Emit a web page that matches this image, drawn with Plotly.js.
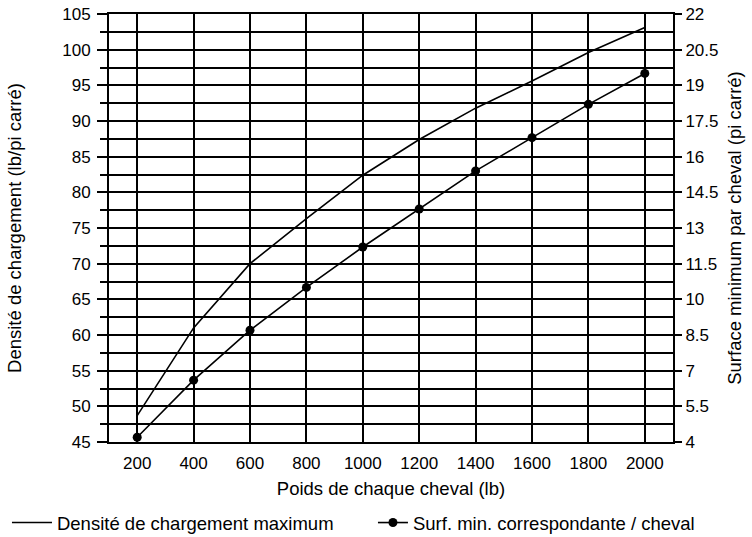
<!DOCTYPE html>
<html>
<head>
<meta charset="utf-8">
<script src="https://cdn.plot.ly/plotly-3.0.1.min.js"></script>
<style>html,body{margin:0;padding:0;background:#fff}#chart{width:752px;height:537px}</style>
</head>
<body>
<div id="chart"></div>
<script>
// Data
const poids = [200, 400, 600, 800, 1000, 1200, 1400, 1600, 1800, 2000];
const densiteMax = [48.7, 61.0, 70.0, 76.3, 82.4, 87.4, 91.8, 95.6, 99.6, 103.1];
const surfaceMin = [4.2, 6.6, 8.7, 10.5, 12.2, 13.8, 15.4, 16.8, 18.2, 19.5];

const nomDensite = 'Densité de chargement maximum';
const nomSurface = 'Surf. min. correspondante / cheval';
const titreX = 'Poids de chaque cheval (lb)';
const titreY = 'Densité de chargement (lb/pi carré)';
const titreY2 = 'Surface minimum par cheval (pi carré)';

const FAM = '"Liberation Sans", Arial, sans-serif';
const TICKFONT = {family: FAM, size: 17, color: '#000'};
const TITLEFONT = {family: FAM, size: 18.5, color: '#000'};

const traces = [
  {x: poids, y: densiteMax, name: nomDensite, type: 'scatter', mode: 'lines',
   line: {color: '#000', width: 1.6}, yaxis: 'y', legend: 'legend'},
  {x: poids, y: surfaceMin, name: nomSurface, type: 'scatter', mode: 'lines+markers',
   line: {color: '#000', width: 1.6}, marker: {color: '#000', size: 9}, yaxis: 'y2', legend: 'legend2'}
];

const layout = {
  width: 752, height: 537,
  margin: {l: 109, r: 79, t: 14, b: 95, autoexpand: false},
  paper_bgcolor: '#fff', plot_bgcolor: '#fff',
  font: TICKFONT,
  showlegend: true,
  legend: {orientation: 'h', x: -0.1809, xanchor: 'left', y: -0.1893, yanchor: 'middle',
           font: TITLEFONT, bgcolor: 'rgba(0,0,0,0)', itemwidth: 40},
  legend2: {orientation: 'h', x: 0.468, xanchor: 'left', y: -0.1893, yanchor: 'middle',
           font: TITLEFONT, bgcolor: 'rgba(0,0,0,0)'},
  xaxis: {range: [100, 2100], tick0: 200, dtick: 200, showgrid: true, gridcolor: '#000', gridwidth: 2,
          showline: true, mirror: true, linecolor: '#000', linewidth: 2, zeroline: false,
          ticks: '', tickfont: TICKFONT, ticklabelstandoff: 5, automargin: false,
          title: {text: titreX, font: TITLEFONT, standoff: 10}},
  yaxis: {range: [45, 105], tick0: 45, dtick: 5, showgrid: true, gridcolor: '#000', gridwidth: 2,
          showline: true, linecolor: '#000', linewidth: 2, zeroline: false,
          ticks: 'outside', ticklen: 10, tickwidth: 2, tickcolor: '#000', tickfont: TICKFONT,
          ticklabelstandoff: 3, automargin: false,
          minor: {tick0: 45, dtick: 2.5, ticks: 'outside', ticklen: 7, tickwidth: 2, tickcolor: '#000',
                  showgrid: true, gridcolor: '#000', gridwidth: 2},
          title: {text: titreY, font: TITLEFONT, standoff: 36}},
  yaxis2: {range: [4, 22], tick0: 4, dtick: 1.5, overlaying: 'y', side: 'right', showgrid: false,
           showline: true, linecolor: '#000', linewidth: 2, zeroline: false,
           ticks: 'outside', ticklen: 7, tickwidth: 2, tickcolor: '#000', tickfont: TICKFONT,
           automargin: false,
           title: {text: titreY2, font: TITLEFONT, standoff: 11}}
};

Plotly.newPlot('chart', traces, layout, {displayModeBar: false, staticPlot: true});
</script>
</body>
</html>
